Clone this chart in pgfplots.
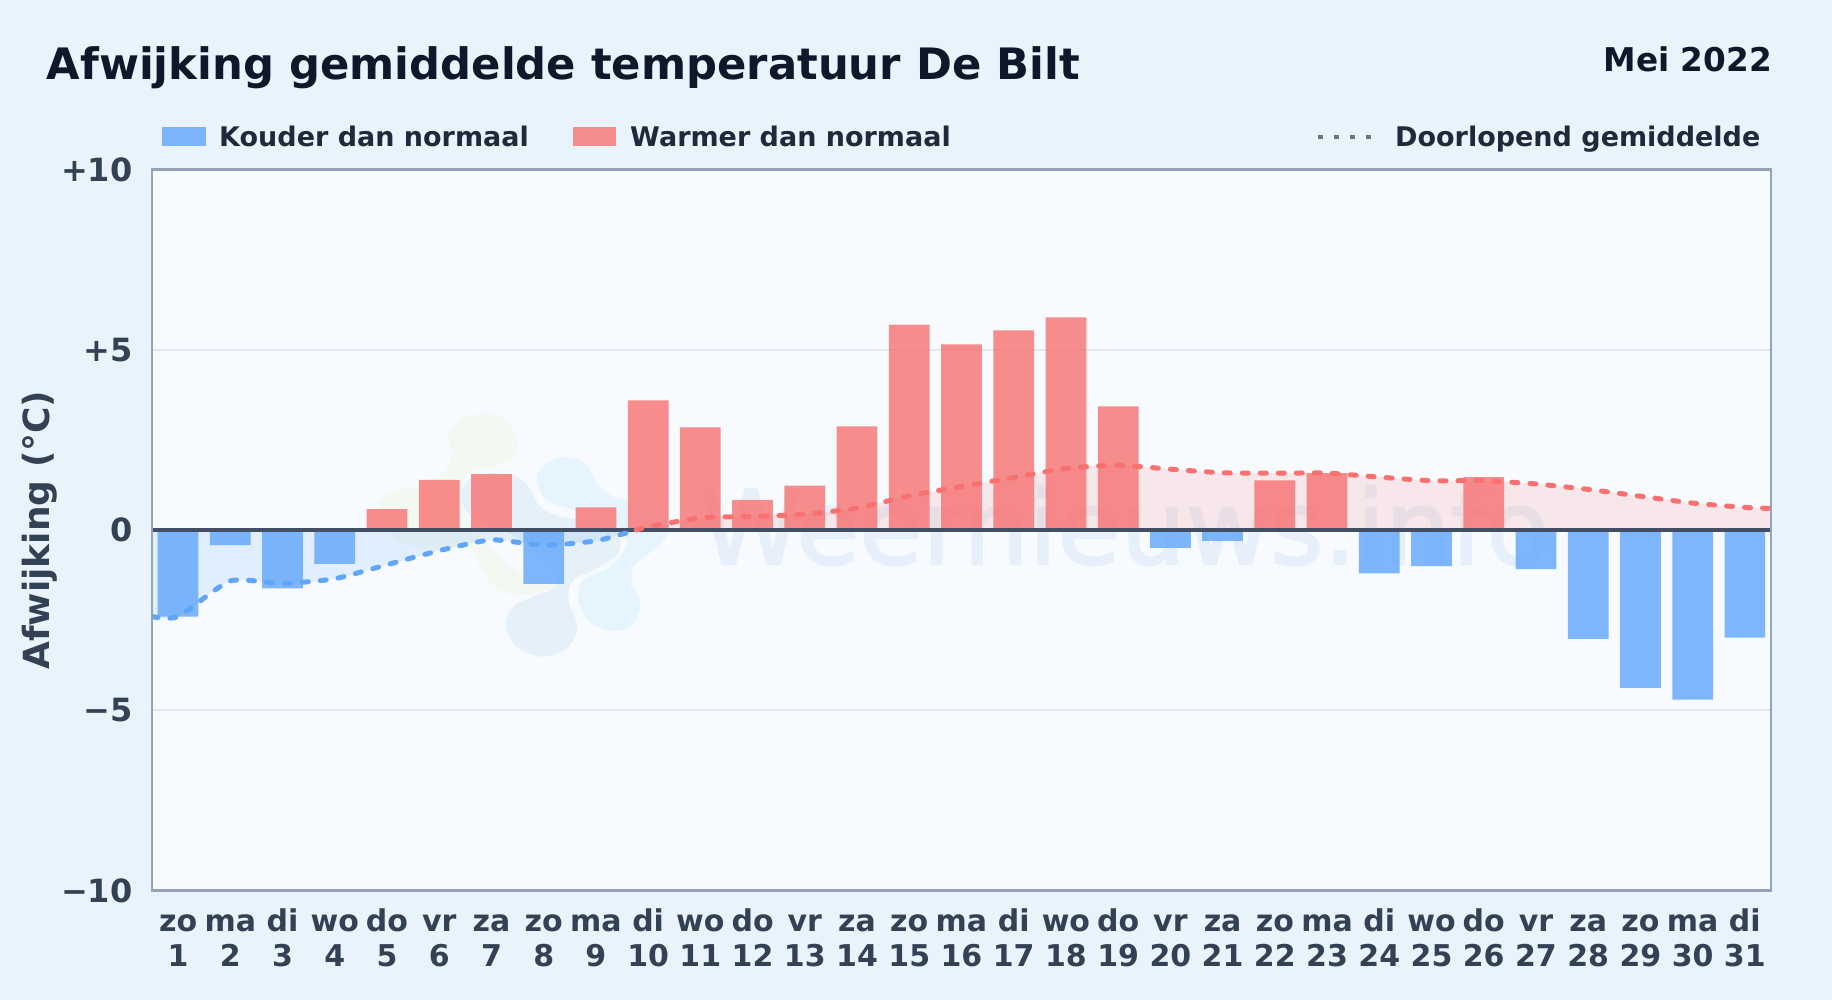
\documentclass[border=0pt]{standalone}
\usepackage{fontspec}
\setmainfont{DejaVu Sans}
\newfontfamily\wmfont[FakeBold=2]{DejaVu Sans}
\usepackage{pgfplots}
\pgfplotsset{compat=1.18}
\definecolor{pagebg}{HTML}{E8F3FC}
\definecolor{plotbg}{HTML}{F7FBFF}
\definecolor{framec}{HTML}{94A3B8}
\definecolor{gridc}{HTML}{E2E8F0}
\definecolor{zeroc}{HTML}{414E64}
\definecolor{titlec}{HTML}{0F172A}
\definecolor{legc}{HTML}{1E293B}
\definecolor{tickc}{HTML}{334155}
\definecolor{cold}{HTML}{60A5FA}
\definecolor{warm}{HTML}{F87171}
\definecolor{dotc}{HTML}{64748B}
\definecolor{wmtext}{HTML}{E7F0FA}
\definecolor{blobg}{HTML}{F3F9F2}
\definecolor{blobb}{HTML}{E6F0F8}
\definecolor{blobl}{HTML}{E6F4FE}
\newcommand{\fs}[2][1.2]{\fontsize{#2}{#1\dimexpr #2pt\relax}\selectfont}
\newcommand{\dg}{\rule{0pt}{24pt}}
\begin{document}
\begin{tikzpicture}[x=1pt,y=1pt]
\useasboundingbox (0,0) rectangle (1832,1000);
\fill[pagebg] (0,0) rectangle (1832,1000);
\fill[plotbg] (152,109.4) rectangle (1771,830.4);

% watermark logo
\begin{scope}[x=0.33333pt,y=-0.33333pt,xshift=360pt,yshift=600pt]
\fill[blobg] plot[smooth cycle,tension=0.55] coordinates {(265,100) (310,55) (380,40) (440,65) (472,125) (460,175) (400,200) (330,215) (305,260) (310,330) (350,400) (420,470) (500,530) (590,555) (540,575) (470,585) (410,565) (365,510) (325,440) (250,445) (130,430) (80,380) (60,310) (110,270) (180,262) (245,225) (275,170) (270,130)};
\fill[blobb] plot[smooth cycle,tension=0.55] coordinates {(305,270) (340,230) (400,220) (470,230) (510,265) (540,320) (600,350) (700,365) (770,400) (775,460) (700,510) (640,540) (625,600) (652,680) (620,745) (545,770) (470,740) (438,680) (460,620) (520,590) (590,555) (560,480) (450,400) (350,360) (310,320)};
\fill[blobl] plot[smooth cycle,tension=0.55] coordinates {(530,235) (560,190) (620,172) (680,195) (710,250) (770,295) (850,305) (920,340) (925,400) (880,450) (820,500) (820,560) (842,620) (810,680) (750,692) (690,665) (655,600) (670,540) (750,500) (800,430) (760,370) (640,330) (560,300)};
\end{scope}
\node[anchor=base west,inner sep=0,text=wmtext] at (700,436) {\wmfont\fs{103}Weernieuws.info};

\begin{axis}[
    at={(152pt,109.4pt)},
    anchor=south west,
    scale only axis,
    width=1619pt,
    height=721pt,
    xmin=0.5,xmax=31.5,
    ymin=-10,ymax=10,
    xtick={1,...,31},
    xticklabels={{\dg zo\\1},{\dg ma\\2},{\dg di\\3},{\dg wo\\4},{\dg do\\5},{\dg vr\\6},{\dg za\\7},{\dg zo\\8},{\dg ma\\9},{\dg di\\10},{\dg wo\\11},{\dg do\\12},{\dg vr\\13},{\dg za\\14},{\dg zo\\15},{\dg ma\\16},{\dg di\\17},{\dg wo\\18},{\dg do\\19},{\dg vr\\20},{\dg za\\21},{\dg zo\\22},{\dg ma\\23},{\dg di\\24},{\dg wo\\25},{\dg do\\26},{\dg vr\\27},{\dg za\\28},{\dg zo\\29},{\dg ma\\30},{\dg di\\31}},
    ytick={-10,-5,0,5,10},
    yticklabels={−10,−5,0,+5,+10},
    major tick length=0pt,
    xticklabel style={align=center,text=tickc,font=\fs[1.17]{30}\bfseries,yshift=-13.5pt},
    yticklabel style={text=tickc,font=\fs{32}\bfseries,xshift=-16pt},
    ymajorgrids,
    grid style={gridc,line width=2pt},
    ylabel={Afwijking (°C)},
    ylabel style={text=tickc,font=\fs{36}\bfseries,at={(axis description cs:-0.0695,0.5)},anchor=center},
    clip=true,
]
% area under the running mean
\addplot[smooth,tension=0.35,draw=none,fill=cold,fill opacity=0.15] coordinates {(0.5,-2.40) (1,-2.40) (2,-1.41) (3,-1.48) (4,-1.35) (5,-0.96) (6,-0.57) (7,-0.27) (8,-0.42) (9,-0.30) (9.77,0)} \closedcycle;
\addplot[smooth,tension=0.35,draw=none,fill=warm,fill opacity=0.14] coordinates {(9.77,0) (10,0.09) (11,0.34) (12,0.38) (13,0.44) (14,0.61) (15,0.95) (16,1.21) (17,1.46) (18,1.71) (19,1.80) (20,1.69) (21,1.59) (22,1.58) (23,1.58) (24,1.47) (25,1.37) (26,1.37) (27,1.28) (28,1.13) (29,0.94) (30,0.75) (31,0.63) (31.5,0.60)} \closedcycle;
% bars
\addplot[ybar,bar shift=0pt,bar width=0.78,draw=none,fill=cold,fill opacity=0.8] coordinates {(1,-2.40) (2,-0.42) (3,-1.62) (4,-0.94) (8,-1.49) (20,-0.49) (21,-0.30) (24,-1.20) (25,-1.00) (27,-1.08) (28,-3.02) (29,-4.38) (30,-4.70) (31,-2.98)};
\addplot[ybar,bar shift=0pt,bar width=0.78,draw=none,fill=warm,fill opacity=0.8] coordinates {(5,0.58) (6,1.39) (7,1.55) (9,0.63) (10,3.60) (11,2.85) (12,0.84) (13,1.23) (14,2.88) (15,5.70) (16,5.15) (17,5.54) (18,5.90) (19,3.43) (22,1.38) (23,1.58) (26,1.47)};
% zero line
\addplot[zeroc,line width=4pt] coordinates {(0.5,0) (31.5,0)};
% running mean
\addplot[smooth,tension=0.35,cold,line width=5pt,line cap=round,dash pattern=on 6pt off 12pt] coordinates {(0.5,-2.40) (1,-2.40) (2,-1.41) (3,-1.48) (4,-1.35) (5,-0.96) (6,-0.57) (7,-0.27) (8,-0.42) (9,-0.30) (9.77,0)};
\addplot[smooth,tension=0.35,warm,line width=5pt,line cap=round,dash pattern=on 6pt off 12pt] coordinates {(9.77,0) (10,0.09) (11,0.34) (12,0.38) (13,0.44) (14,0.61) (15,0.95) (16,1.21) (17,1.46) (18,1.71) (19,1.80) (20,1.69) (21,1.59) (22,1.58) (23,1.58) (24,1.47) (25,1.37) (26,1.37) (27,1.28) (28,1.13) (29,0.94) (30,0.75) (31,0.63) (31.5,0.60)};
\end{axis}
\draw[framec,line width=2.5pt] (152,109.4) rectangle (1771,830.4);

% title and legend
\node[anchor=base west,inner sep=0,text=titlec] at (46.5,920) {\fs{43.3}\bfseries Afwijking gemiddelde temperatuur De Bilt};
\node[anchor=base east,inner sep=0,text=titlec] at (1772,928) {\fs{32.7}\bfseries Mei 2022};
\fill[cold,opacity=0.8] (162,854) rectangle (206,873);
\node[anchor=base west,inner sep=0,text=legc] at (219,853) {\fs{27}\bfseries Kouder dan normaal};
\fill[warm,opacity=0.8] (573,854) rectangle (616,873);
\node[anchor=base west,inner sep=0,text=legc] at (630,853) {\fs{27}\bfseries Warmer dan normaal};
\draw[dotc,line width=4pt,dash pattern=on 5pt off 11pt] (1318,863) -- (1372,863);
\node[anchor=base west,inner sep=0,text=legc] at (1395,853) {\fs{27}\bfseries Doorlopend gemiddelde};
\end{tikzpicture}
\end{document}
